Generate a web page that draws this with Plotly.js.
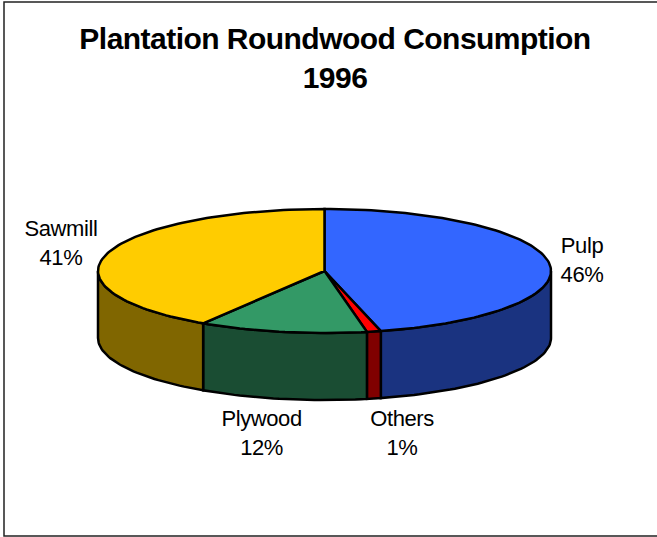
<!DOCTYPE html>
<html>
<head>
<meta charset="utf-8">
<script src="https://cdn.plot.ly/plotly-3.0.1.min.js"></script>
<style>
html,body{margin:0;padding:0;background:#fff}
#chart{width:657px;height:537px}
/* Tighter tracking for the large headings and labels */
#chart .gtitle{letter-spacing:-0.53px}
#chart .annotation-text{letter-spacing:-0.4px}
</style>
</head>
<body>
<div id="chart"></div>
<script>
// Plantation roundwood consumption by end use, 1996 (percent)
const categories = ["Pulp", "Others", "Plywood", "Sawmill"];
const shares = [46, 1, 12, 41];
const topColors = ["#3366FF", "#FF0000", "#339966", "#FFCC00"];
const sideColors = ["#1A3380", "#800000", "#1A4D33", "#806600"];
const titleLines = ["Plantation Roundwood Consumption", "1996"];

// Tilted-disc geometry, in page pixels
const cx = 324.5, cy = 271, rx = 226.5, ry = 62, depth = 67;
// Label anchors, same order as the categories
const labelX = [581.5, 401.5, 261, 60.5];
const labelY = [260, 433, 433, 243];

const total = shares.reduce((a, b) => a + b, 0);
const rimPoint = (deg, drop) => {
  const t = deg * Math.PI / 180;
  return [cx + rx * Math.sin(t), cy - ry * Math.cos(t) + drop];
};
const arc = (from, to, drop) => {
  const pts = [], n = Math.max(2, Math.ceil(Math.abs(to - from) / 1.5));
  for (let i = 0; i <= n; i++) pts.push(rimPoint(from + (to - from) * i / n, drop));
  return pts;
};
const polyTrace = (pts, color) => ({
  type: "scatter", mode: "lines", fill: "toself", fillcolor: color,
  x: pts.map(p => p[0]), y: pts.map(p => p[1]),
  line: { color: "#000", width: 2.5, shape: "linear" },
  hoverinfo: "skip", showlegend: false
});

// Slices run clockwise from twelve o'clock
let start = 0;
const slices = shares.map(v => {
  const s = { from: start, to: start + v / total * 360 };
  start = s.to;
  return s;
});

// Outer wall: only the part of the rim facing the viewer (90 to 270 degrees)
const walls = [];
slices.forEach((s, i) => {
  const a = Math.max(s.from, 90), b = Math.min(s.to, 270);
  if (b <= a) return;
  const pts = arc(a, b, 0).concat(arc(b, a, depth));
  pts.push(pts[0]);
  walls.push(polyTrace(pts, sideColors[i]));
});

// Top face of each slice
const tops = slices.map((s, i) => {
  const pts = [[cx, cy]].concat(arc(s.from, s.to, 0));
  pts.push([cx, cy]);
  return polyTrace(pts, topColors[i]);
});

const annotations = categories.map((c, i) => ({
  xref: "x", yref: "y", x: labelX[i], y: labelY[i],
  text: c + "<br>" + shares[i] + "%",
  showarrow: false, xanchor: "center", yanchor: "middle", align: "center",
  font: { family: "Liberation Sans, Arial, sans-serif", size: 22, color: "#000" }
}));

const layout = {
  width: 657, height: 537,
  margin: { l: 0, r: 0, t: 0, b: 0 },
  paper_bgcolor: "#fff", plot_bgcolor: "#fff",
  showlegend: false,
  title: {
    text: titleLines.join("<br>"),
    font: { family: "Liberation Sans, Arial, sans-serif", size: 30, color: "#000", weight: 700 },
    x: 335 / 657, xanchor: "center", xref: "paper",
    y: 1 - 49 / 537, yanchor: "middle", yref: "container"
  },
  xaxis: { range: [0, 657], visible: false, fixedrange: true },
  yaxis: { range: [537, 0], visible: false, fixedrange: true },
  shapes: [{
    type: "rect", xref: "x", yref: "y", x0: 4, y0: 2, x1: 680, y1: 536,
    line: { color: "#222", width: 1.5 }, fillcolor: "rgba(0,0,0,0)", layer: "below"
  }],
  annotations
};

Plotly.newPlot("chart", walls.concat(tops), layout, { displayModeBar: false, staticPlot: true });
</script>
</body>
</html>
